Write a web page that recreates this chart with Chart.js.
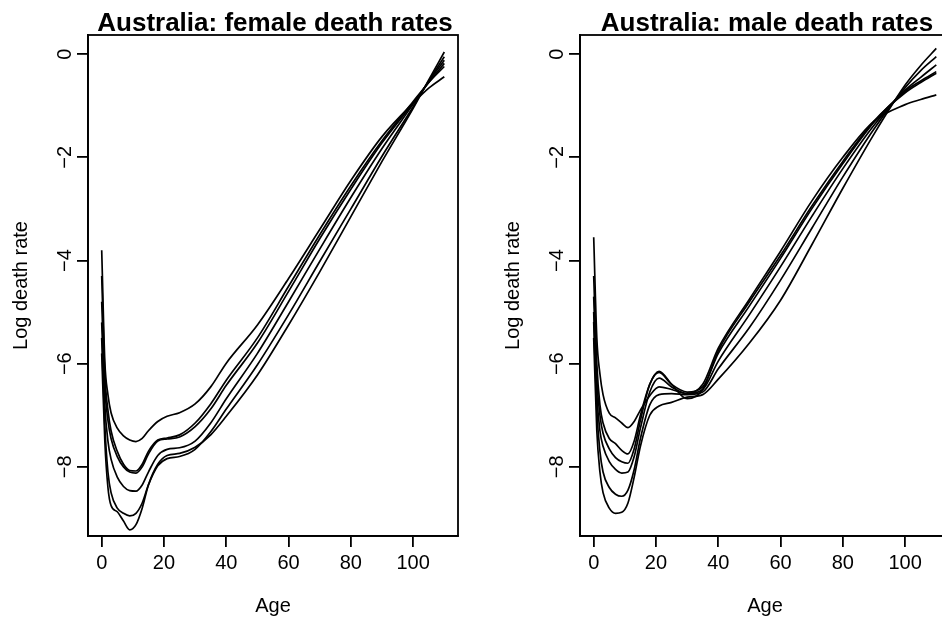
<!DOCTYPE html>
<html>
<head>
<meta charset="utf-8">
<script src="https://cdn.jsdelivr.net/npm/chart.js@4.4.1/dist/chart.umd.min.js"></script>
<style>
  html, body { margin: 0; padding: 0; background: #fff; overflow: hidden; }
  #wrap { position: relative; width: 942px; height: 618px; overflow: hidden; }
  .panel { position: absolute; top: 0; width: 492px; height: 618px; }
</style>
</head>
<body>
<div id="wrap">
  <div class="panel" style="left:0"><canvas id="female" width="492" height="618"></canvas></div>
  <div class="panel" style="left:492px"><canvas id="male" width="492" height="618"></canvas></div>
</div>
<script>
// ages shared by every curve
const ages = [0, 1, 2, 3, 5, 7, 9, 11, 13, 15, 18, 21, 25, 30, 35, 40, 50, 60, 70, 80, 90, 100, 105, 110];

// female log death rates, one array per year (earliest first)
const femaleA = [-3.8, -5.95, -6.6, -6.95, -7.25, -7.4, -7.48, -7.51, -7.45, -7.3, -7.12, -7.02, -6.95, -6.78, -6.45, -5.99, -5.25, -4.35, -3.4, -2.45, -1.6, -0.95, -0.66, -0.44];
const femaleB = [-4.3, -6.2, -6.9, -7.3, -7.7, -7.95, -8.07, -8.08, -7.95, -7.7, -7.48, -7.44, -7.38, -7.15, -6.78, -6.32, -5.5, -4.5, -3.5, -2.55, -1.68, -0.92, -0.55, -0.24];
const femaleC = [-4.8, -6.45, -7.1, -7.45, -7.8, -8.0, -8.1, -8.12, -8.0, -7.75, -7.5, -7.46, -7.42, -7.22, -6.88, -6.42, -5.6, -4.6, -3.58, -2.62, -1.72, -0.95, -0.55, -0.18];
const femaleD = [-5.2, -6.8, -7.5, -7.85, -8.2, -8.38, -8.46, -8.47, -8.35, -8.1, -7.78, -7.66, -7.63, -7.5, -7.15, -6.68, -5.8, -4.8, -3.78, -2.78, -1.83, -0.97, -0.53, -0.12];
const femaleE = [-5.5, -7.2, -8.1, -8.5, -8.8, -8.9, -8.95, -8.9, -8.7, -8.35, -7.98, -7.84, -7.8, -7.66, -7.32, -6.88, -6.02, -5.05, -4.02, -3.0, -1.98, -1.02, -0.52, -0.05];
const femaleF = [-5.8, -7.5, -8.4, -8.75, -8.87, -9.05, -9.22, -9.12, -8.8, -8.35, -7.95, -7.78, -7.74, -7.62, -7.38, -7.02, -6.22, -5.25, -4.22, -3.15, -2.08, -1.05, -0.5, 0.04];

// male log death rates
const maleA = [-3.55, -5.5, -6.2, -6.6, -6.96, -7.05, -7.15, -7.24, -7.12, -6.9, -6.62, -6.45, -6.5, -6.58, -6.4, -5.7, -4.75, -3.82, -2.85, -2.0, -1.3, -0.98, -0.88, -0.79];
const maleB = [-4.3, -6.0, -6.8, -7.15, -7.45, -7.55, -7.68, -7.75, -7.5, -7.0, -6.4, -6.15, -6.4, -6.68, -6.5, -5.75, -4.8, -3.9, -2.95, -2.08, -1.3, -0.75, -0.55, -0.37];
const maleC = [-4.7, -6.3, -7.0, -7.35, -7.65, -7.82, -7.9, -7.93, -7.65, -7.1, -6.4, -6.17, -6.4, -6.55, -6.45, -5.8, -4.88, -3.96, -3.0, -2.12, -1.32, -0.72, -0.52, -0.34];
const maleD = [-5.0, -6.6, -7.3, -7.6, -7.9, -8.05, -8.12, -8.1, -7.8, -7.25, -6.55, -6.28, -6.45, -6.58, -6.5, -5.95, -5.05, -4.12, -3.15, -2.22, -1.38, -0.7, -0.45, -0.21];
const maleE = [-5.19, -6.9, -7.7, -8.1, -8.4, -8.53, -8.57, -8.45, -8.05, -7.45, -6.8, -6.6, -6.58, -6.6, -6.55, -6.1, -5.3, -4.38, -3.38, -2.38, -1.45, -0.65, -0.32, -0.05];
const maleF = [-5.5, -7.3, -8.1, -8.5, -8.8, -8.9, -8.88, -8.7, -8.2, -7.6, -7.0, -6.82, -6.75, -6.65, -6.6, -6.3, -5.6, -4.77, -3.7, -2.6, -1.55, -0.6, -0.22, 0.11];

const xTicks = [0, 20, 40, 60, 80, 100];
const yTicks = [-8, -6, -4, -2, 0];

const FONT = '"Liberation Sans", Arial, Helvetica, sans-serif';
Chart.defaults.font.family = FONT;
Chart.defaults.color = '#000';

function fmt(v) {
  return v < 0 ? '\u2212' + Math.abs(v) : String(v);
}

// R-like frame: box, bold title, rotated y tick labels
const rFrame = {
  id: 'rFrame',
  afterDraw(chart, args, opts) {
    const { ctx, chartArea: a, scales: { y } } = chart;
    ctx.save();
    ctx.strokeStyle = '#000';
    ctx.lineWidth = 1.8;
    ctx.strokeRect(a.left, a.top, a.right - a.left, a.bottom - a.top);
    ctx.fillStyle = '#000';
    ctx.font = 'bold 26px ' + FONT;
    ctx.textAlign = 'center';
    ctx.textBaseline = 'alphabetic';
    ctx.fillText(opts.title, (a.left + a.right) / 2 + 2, 31);
    ctx.font = '20px ' + FONT;
    ctx.textBaseline = 'middle';
    y.ticks.forEach(t => {
      const py = y.getPixelForValue(t.value);
      ctx.save();
      ctx.translate(65, py);
      ctx.rotate(-Math.PI / 2);
      ctx.fillText(fmt(t.value), 0, 0);
      ctx.restore();
    });
    ctx.restore();
  }
};

function makeChart(id, title, series) {
  const datasets = series.map(vals => ({
    data: ages.map((a, i) => ({ x: a, y: vals[i] })),
    borderColor: '#000',
    borderWidth: 1.7,
    pointRadius: 0,
    fill: false,
    cubicInterpolationMode: 'monotone'
  }));

  const axisGrid = { drawOnChartArea: false, drawTicks: true, tickLength: 11, color: '#000', lineWidth: 1.8 };

  new Chart(document.getElementById(id), {
    type: 'line',
    data: { datasets },
    options: {
      responsive: false,
      animation: false,
      devicePixelRatio: 1,
      layout: { padding: { top: 35, right: 34, left: 0, bottom: 0 } },
      plugins: {
        legend: { display: false },
        tooltip: { enabled: false },
        rFrame: { title }
      },
      scales: {
        x: {
          type: 'linear',
          min: -4.4,
          max: 114.4,
          afterBuildTicks: s => { s.ticks = xTicks.map(v => ({ value: v })); },
          afterFit: s => { s.height = 82; },
          grid: axisGrid,
          border: { display: true, color: '#000', width: 1.8 },
          ticks: { font: { size: 20 }, padding: 4, maxRotation: 0, autoSkip: false, color: '#000' },
          title: { display: true, text: 'Age', font: { size: 20 }, padding: { top: 0, bottom: 0 }, color: '#000' }
        },
        y: {
          type: 'linear',
          min: -9.34,
          max: 0.37,
          afterBuildTicks: s => { s.ticks = yTicks.map(v => ({ value: v })); },
          afterFit: s => { s.width = 88; },
          grid: axisGrid,
          border: { display: true, color: '#000', width: 1.8 },
          ticks: { display: false },
          title: { display: true, text: 'Log death rate', font: { size: 20 }, padding: { top: 9, bottom: 0 }, color: '#000' }
        }
      }
    },
    plugins: [rFrame]
  });
}

makeChart('female', 'Australia: female death rates', [femaleA, femaleB, femaleC, femaleD, femaleE, femaleF]);
makeChart('male', 'Australia: male death rates', [maleA, maleB, maleC, maleD, maleE, maleF]);
</script>
</body>
</html>
